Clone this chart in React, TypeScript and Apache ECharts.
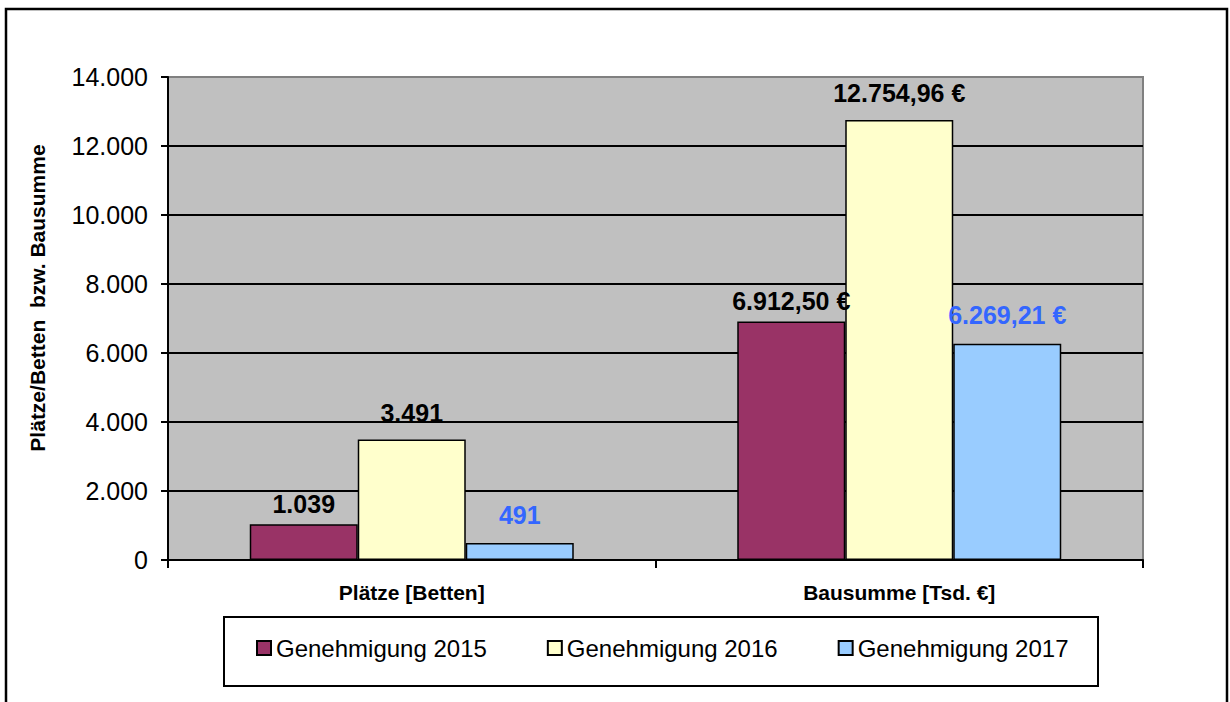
import React, { useEffect, useRef } from "react";
import * as echarts from "echarts";

const categories = ["Plätze [Betten]", "Bausumme [Tsd. €]"];
const seriesNames = ["Genehmigung 2015", "Genehmigung 2016", "Genehmigung 2017"];
const values2015 = [1039, 6912.5];
const values2016 = [3491, 12754.96];
const values2017 = [491, 6269.21];
const yTicks = { min: 0, max: 14000, interval: 2000 };
const yAxisTitle = "Plätze/Betten  bzw. Bausumme";

const FONT = "'Liberation Sans', Arial, sans-serif";

function thousands(v: number): string {
  return Math.round(v)
    .toString()
    .replace(/\B(?=(\d{3})+(?!\d))/g, ".");
}

function euro(v: number): string {
  const fixed = v.toFixed(2);
  const [intPart, dec] = fixed.split(".");
  return thousands(Number(intPart)) + "," + dec + " €";
}

function labelFormatter(p: any): string {
  return p.dataIndex === 0 ? thousands(p.value) : euro(p.value);
}

export default function App() {
  const ref = useRef<HTMLDivElement>(null);

  useEffect(() => {
    if (!ref.current) return;
    const chart = echarts.init(ref.current, null, { renderer: "svg" });

    const mk = (name: string, data: number[], color: string, labelColor: string, dist: number) => ({
      name,
      type: "bar",
      data,
      barWidth: 108,
      barGap: "0%",
      itemStyle: { color, borderColor: "#000", borderWidth: 1.5 },
      label: {
        show: true,
        position: "top",
        distance: dist,
        formatter: labelFormatter,
        color: labelColor,
        fontFamily: FONT,
        fontWeight: "bold",
        fontSize: 25,
      },
    });

    chart.setOption({
      animation: false,
      backgroundColor: "#fff",
      grid: {
        left: 168,
        right: 87,
        top: 77,
        bottom: 142,
        show: true,
        backgroundColor: "#c0c0c0",
        borderColor: "#808080",
        borderWidth: 2,
      },
      graphic: [
        {
          type: "rect",
          shape: { x: 6, y: 9, width: 1221, height: 720 },
          style: { fill: "none", stroke: "#000", lineWidth: 2.5 },
          silent: true,
        },
        {
          type: "rect",
          shape: { x: 224, y: 617, width: 874, height: 69 },
          style: { fill: "#fff", stroke: "#000", lineWidth: 2 },
          silent: true,
          z: 0,
        },
        {
          type: "text",
          x: 37,
          y: 298,
          rotation: Math.PI / 2,
          style: {
            text: yAxisTitle,
            fill: "#000",
            font: `bold 21px ${FONT}`,
            align: "center",
            verticalAlign: "middle",
          },
          silent: true,
        },
      ],
      legend: {
        data: seriesNames,
        left: 256,
        top: 636,
        padding: 0,
        icon: "rect",
        itemWidth: 14,
        itemHeight: 14,
        itemGap: 60,
        z: 10,
        textStyle: { fontFamily: FONT, fontSize: 24, color: "#000" },
      },
      xAxis: {
        type: "category",
        data: categories,
        axisLine: { show: true, lineStyle: { color: "#000", width: 2 } },
        axisTick: { show: true, length: 8, alignWithLabel: false, lineStyle: { color: "#000", width: 2 } },
        axisLabel: {
          margin: 22,
          color: "#000",
          fontFamily: FONT,
          fontWeight: "bold",
          fontSize: 21,
        },
      },
      yAxis: {
        type: "value",
        min: yTicks.min,
        max: yTicks.max,
        interval: yTicks.interval,
        axisLine: { show: true, lineStyle: { color: "#000", width: 2 } },
        axisTick: { show: true, length: 7, lineStyle: { color: "#000", width: 2 } },
        splitLine: { show: true, showMaxLine: false, lineStyle: { color: "#000", width: 2 } },
        axisLabel: {
          margin: 20,
          color: "#000",
          fontFamily: FONT,
          fontSize: 25,
          formatter: (v: number) => thousands(v),
        },
      },
      series: [
        mk(seriesNames[0], values2015, "#993366", "#000", 8),
        mk(seriesNames[1], values2016, "#ffffcc", "#000", 14),
        mk(seriesNames[2], values2017, "#99ccff", "#3366ff", 16),
      ],
    });

    return () => chart.dispose();
  }, []);

  return (
    <div
      ref={ref}
      style={{ position: "absolute", left: 0, top: 0, width: 1230, height: 702 }}
    />
  );
}
